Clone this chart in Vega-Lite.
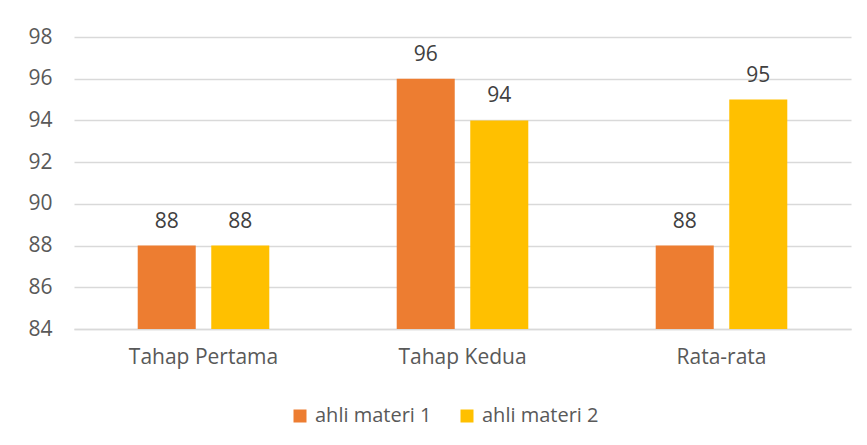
{
  "$schema": "https://vega.github.io/schema/vega-lite/v6.json",
  "autosize": "none",
  "width": 777,
  "height": 292,
  "padding": {"left": 74, "top": 37, "right": 16, "bottom": 116},
  "background": "white",
  "config": {
    "view": {"stroke": null},
    "font": "Open Sans",
    "axis": {"labelFont": "Open Sans", "labelColor": "#595959", "labelFontSize": 21},
    "legend": {"labelFont": "Open Sans", "labelColor": "#595959", "labelFontSize": 20}
  },
  "data": {
    "values": [
      {"tahap": "Tahap Pertama", "ahli": "ahli materi 1", "nilai": 88},
      {"tahap": "Tahap Pertama", "ahli": "ahli materi 2", "nilai": 88},
      {"tahap": "Tahap Kedua", "ahli": "ahli materi 1", "nilai": 96},
      {"tahap": "Tahap Kedua", "ahli": "ahli materi 2", "nilai": 94},
      {"tahap": "Rata-rata", "ahli": "ahli materi 1", "nilai": 88},
      {"tahap": "Rata-rata", "ahli": "ahli materi 2", "nilai": 95}
    ]
  },
  "encoding": {
    "x": {
      "field": "tahap", "type": "nominal", "sort": null,
      "scale": {"paddingInner": 0.492, "paddingOuter": 0.246},
      "axis": {"title": null, "labelAngle": 0, "ticks": false, "domainColor": "#D9D9D9", "domainWidth": 1.3, "labelPadding": 17}
    },
    "xOffset": {
      "field": "ahli", "type": "nominal",
      "scale": {"paddingInner": 0.211, "paddingOuter": 0}
    },
    "y": {
      "field": "nilai", "type": "quantitative",
      "scale": {"domain": [84, 98], "zero": false, "nice": false},
      "axis": {"title": null, "values": [84, 86, 88, 90, 92, 94, 96, 98], "ticks": false, "domain": false, "gridColor": "#D9D9D9", "gridWidth": 1.3, "labelPadding": 22}
    }
  },
  "layer": [
    {
      "mark": {"type": "bar", "clip": true},
      "encoding": {
        "y2": {"datum": 84},
        "color": {
          "field": "ahli", "type": "nominal",
          "scale": {"range": ["#ED7D31", "#FFC000"]},
          "legend": {
            "title": null, "orient": "none", "direction": "horizontal",
            "legendX": 216, "legendY": 369,
            "symbolType": "square", "symbolSize": 169, "symbolStrokeWidth": 0,
            "labelOffset": 5, "columnPadding": 25
          }
        }
      }
    },
    {
      "mark": {"type": "text", "baseline": "alphabetic", "dy": -18, "fontSize": 21, "color": "#404040", "font": "Open Sans"},
      "encoding": {"text": {"field": "nilai", "type": "quantitative"}}
    }
  ]
}
